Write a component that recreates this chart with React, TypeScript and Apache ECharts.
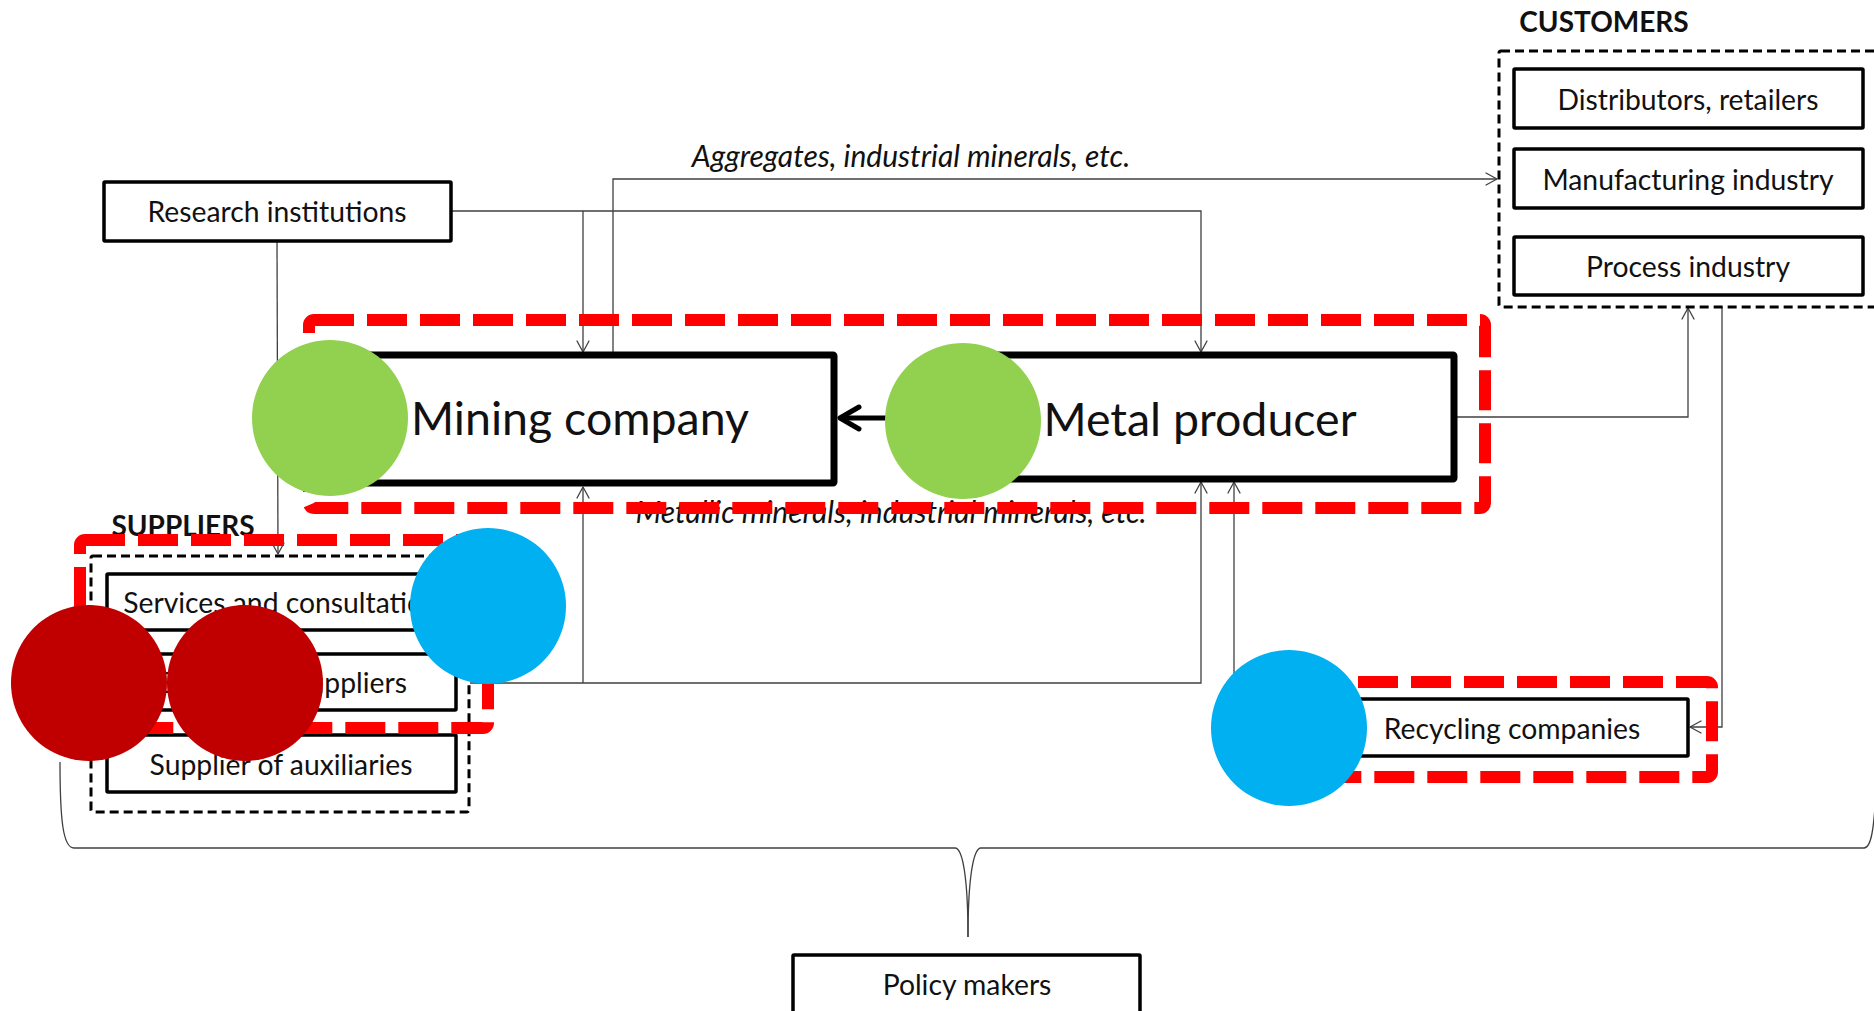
import React, { useEffect, useRef } from "react";
import * as echarts from "echarts";

const W = 1874;
const H = 1011;

// Text content
const customerLabels = ["Distributors, retailers", "Manufacturing industry", "Process industry"];
const supplierLabels = ["Services and consultation", "Equipment suppliers", "Supplier of auxiliaries"];
const coreLabels = ["Mining company", "Metal producer"];
const flowLabels = ["Aggregates, industrial minerals, etc.", "Metallic minerals, industrial minerals, etc."];
const groupTitles = ["CUSTOMERS", "SUPPLIERS"];
const otherLabels = ["Research institutions", "Recycling companies", "Policy makers"];

const FONT = "Lato, 'Open Sans', sans-serif";
const LINE = "#404040";
const BOX_FS = 28.3;
const CORE_FS = 46.5;
const FLOW_FS = 30;
const TITLE_FS = 28;

function arrowHead(x: number, y: number, dir: "up" | "down" | "left" | "right", len = 11, half = 6, color = LINE, lw = 1.3) {
  let pts: number[][];
  if (dir === "down") pts = [[x - half, y - len], [x, y], [x + half, y - len]];
  else if (dir === "up") pts = [[x - half, y + len], [x, y], [x + half, y + len]];
  else if (dir === "left") pts = [[x + len, y - half], [x, y], [x + len, y + half]];
  else pts = [[x - len, y - half], [x, y], [x - len, y + half]];
  return { type: "polyline", shape: { points: pts }, style: { stroke: color, lineWidth: lw, fill: null, lineCap: "round", lineJoin: "round" }, z: 5 };
}

function conn(points: number[][]) {
  return { type: "polyline", shape: { points }, style: { stroke: LINE, lineWidth: 1.3, fill: null }, z: 4 };
}

function box(x: number, y: number, w: number, h: number, lw = 3.5) {
  return { type: "rect", shape: { x, y, width: w, height: h, r: 1 }, style: { fill: "#fff", stroke: "#000", lineWidth: lw }, z: 10 };
}

function dashedBox(x: number, y: number, w: number, h: number) {
  return { type: "rect", shape: { x, y, width: w, height: h, r: 2 }, style: { fill: null, stroke: "#000", lineWidth: 3, lineDash: [9, 5] }, z: 9 };
}

function redBox(x: number, y: number, w: number, h: number) {
  return { type: "rect", shape: { x, y, width: w, height: h, r: 5 }, style: { fill: null, stroke: "#FF0000", lineWidth: 12, lineDash: [40, 13] }, z: 20 };
}

function label(text: string, x: number, y: number, size: number, opts: any = {}) {
  return {
    type: "text",
    x,
    y,
    style: {
      text,
      fill: "#111",
      font: `${opts.italic ? "italic " : ""}${opts.bold ? "bold " : ""}${size}px ${FONT}`,
      align: opts.align || "center",
      verticalAlign: "middle",
    },
    z: opts.z || 15,
  };
}

function circle(cx: number, cy: number, color: string) {
  return { type: "circle", shape: { cx, cy, r: 78 }, style: { fill: color }, z: 30 };
}

function bez(x1: number, y1: number, c1x: number, c1y: number, c2x: number, c2y: number, x2: number, y2: number) {
  return { type: "bezierCurve", shape: { x1, y1, cpx1: c1x, cpy1: c1y, cpx2: c2x, cpy2: c2y, x2, y2 }, style: { stroke: LINE, lineWidth: 1.3, fill: null }, z: 4 };
}

export default function App() {
  const ref = useRef<HTMLDivElement>(null);
  useEffect(() => {
    if (!ref.current) return;
    const chart = echarts.init(ref.current, undefined, { renderer: "svg" });
    const els: any[] = [];

    // connectors
    els.push(conn([[613, 353], [613, 179], [1497, 179]]), arrowHead(1497, 179, "right"));
    els.push(conn([[451, 211], [1201, 211], [1201, 352]]), arrowHead(1201, 352, "down"));
    els.push(conn([[583, 211], [583, 352]]), arrowHead(583, 352, "down"));
    els.push(conn([[277, 241], [278, 554]]), arrowHead(278, 554, "down"));
    els.push(conn([[470, 683], [1201, 683], [1201, 482]]), arrowHead(1201, 482, "up"));
    els.push(conn([[583, 683], [583, 487]]), arrowHead(583, 487, "up"));
    els.push(conn([[1234, 720], [1234, 482]]), arrowHead(1234, 482, "up"));
    els.push(conn([[1455, 417], [1688, 417], [1688, 308]]), arrowHead(1688, 308, "up"));
    els.push(conn([[1722, 307], [1722, 727], [1690, 727]]), arrowHead(1690, 727, "left"));
    // thick arrow metal -> mining
    els.push({ type: "line", shape: { x1: 890, y1: 418, x2: 841, y2: 418 }, style: { stroke: "#000", lineWidth: 5 }, z: 12 });
    els.push(arrowHead(840, 418, "left", 19, 11, "#000", 5));

    // policy brace
    els.push(bez(60, 762, 60, 820, 63, 848, 74, 848));
    els.push(conn([[74, 848], [955, 848]]));
    els.push(bez(955, 848, 963, 848, 968, 880, 968, 937));
    els.push(bez(968, 937, 968, 880, 973, 848, 981, 848));
    els.push(conn([[981, 848], [1864, 848]]));
    els.push(bez(1864, 848, 1871, 848, 1874, 830, 1876, 790));

    // customers
    els.push(label(groupTitles[0], 1604, 21, TITLE_FS, { bold: true }));
    els.push(dashedBox(1499, 51, 420, 256));
    const cy = [[69, 59], [149, 59], [237, 58]];
    customerLabels.forEach((t, i) => {
      els.push(box(1514, cy[i][0], 349, cy[i][1]));
      els.push(label(t, 1688, cy[i][0] + cy[i][1] / 2, BOX_FS));
    });

    // research
    els.push(box(104, 182, 347, 59, 3.5));
    els.push(label(otherLabels[0], 277, 211, BOX_FS));

    // core
    els.push(box(355, 355, 479, 128, 7));
    els.push(label(coreLabels[0], 580, 417, CORE_FS));
    els.push(box(970, 355, 484, 124, 7));
    els.push(label(coreLabels[1], 1200, 418, CORE_FS));

    // flow labels
    els.push(label(flowLabels[0], 911, 155, FLOW_FS, { italic: true }));
    els.push(label(flowLabels[1], 891, 511, FLOW_FS, { italic: true }));

    // suppliers
    els.push(label(groupTitles[1], 183, 525, TITLE_FS, { bold: true }));
    els.push(dashedBox(91, 556, 378, 256));
    const sy = [[574, 56], [654, 56], [735, 57]];
    supplierLabels.forEach((t, i) => {
      els.push(box(107, sy[i][0], 349, sy[i][1]));
      els.push(label(t, 281, sy[i][0] + sy[i][1] / 2, BOX_FS));
    });

    // recycling
    els.push(box(1340, 699, 348, 57));
    els.push(label(otherLabels[1], 1512, 728, BOX_FS));

    // policy makers
    els.push(box(793, 955, 347, 80));
    els.push(label(otherLabels[2], 967, 984, BOX_FS));

    // red dashed groups
    els.push(redBox(309, 320, 1176, 188));
    els.push(redBox(80, 540, 408, 188));
    els.push(redBox(1300, 682, 412, 95));

    // circles
    els.push(circle(330, 418, "#92D050"));
    els.push(circle(963, 421, "#92D050"));
    els.push(circle(89, 683, "#C00000"));
    els.push(circle(245, 683, "#C00000"));
    els.push(circle(488, 606, "#00B0F0"));
    els.push(circle(1289, 728, "#00B0F0"));

    chart.setOption({
      animation: false,
      backgroundColor: "#fff",
      graphic: { elements: els },
    });
    return () => chart.dispose();
  }, []);
  return <div ref={ref} style={{ position: "absolute", left: 0, top: 0, width: W, height: H }} />;
}
